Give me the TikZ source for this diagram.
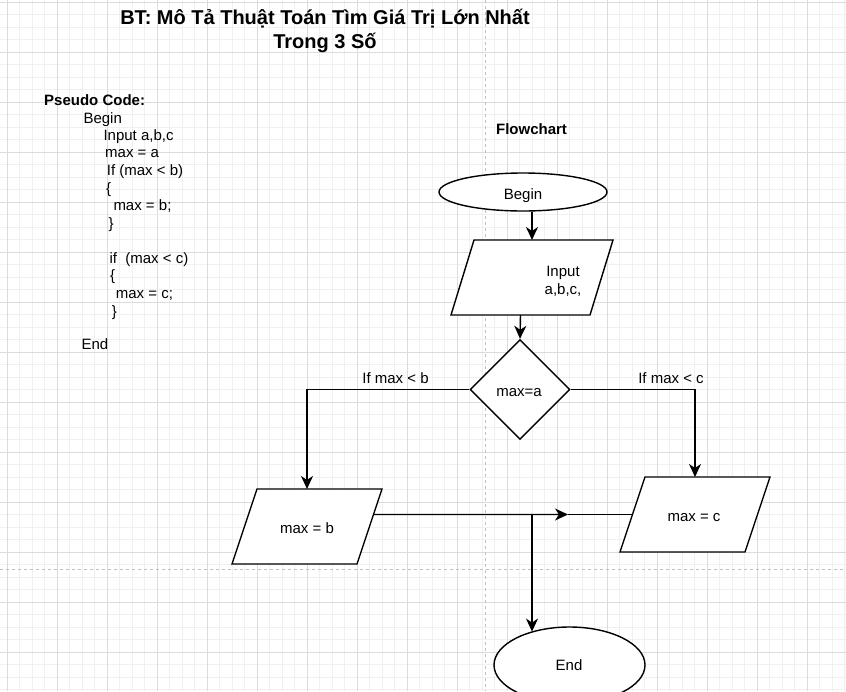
\documentclass[tikz,border=0pt]{standalone}
\usepackage{fontspec}
\setmainfont{Liberation Sans}
\usetikzlibrary{shapes.geometric,arrows.meta,calc}

\definecolor{gridminor}{RGB}{240,240,240}
\definecolor{gridmajor}{RGB}{220,220,220}
\definecolor{pagebreak}{RGB}{192,192,192}

\tikzset{
  txt/.style={inner sep=0pt, font=\fontsize{15}{18}\selectfont, text height=10.5pt, text depth=3pt, yshift=-2.5pt},
  codeline/.style={txt, anchor=west},
  codehead/.style={codeline, font=\fontsize{15}{18}\selectfont\bfseries},
  shapebox/.style={draw=black, line width=1.4pt, fill=white, inner sep=0pt},
  terminal/.style={shapebox, ellipse},
  decision/.style={shapebox, diamond, minimum width=100pt, minimum height=100pt},
  link/.style={line width=1.4pt},
  arr/.style={link, -{Stealth[length=13pt, width=12pt, inset=4pt]}},
}

\begin{document}
\begin{tikzpicture}[x=1pt, y=-1pt]

  % -- Canvas and grid --
  \useasboundingbox (0,0) rectangle (846,691);
  \fill[white] (0,0) rectangle (846,691);
  \foreach \i in {0,...,67} \draw[gridminor, line width=1pt] ({7.3+12.5*\i},0) -- ({7.3+12.5*\i},691);
  \foreach \i in {0,...,55} \draw[gridminor, line width=1pt] (0,{2.3+12.5*\i}) -- (846,{2.3+12.5*\i});
  \foreach \i in {0,...,16} \draw[gridmajor, line width=1pt] ({7.3+50*\i},0) -- ({7.3+50*\i},691);
  \foreach \i in {0,...,13} \draw[gridmajor, line width=1pt] (0,{2.3+50*\i}) -- (846,{2.3+50*\i});

  % -- Page breaks --
  \draw[pagebreak, line width=1pt, dash pattern=on 3pt off 3pt] (485.7,0) -- (485.7,691);
  \draw[pagebreak, line width=1pt, dash pattern=on 3pt off 3pt] (0,569.3) -- (846,569.3);

  % -- Title --
  \node[inner sep=0pt, align=center, yshift=-2pt, font=\fontsize{20}{24}\selectfont\bfseries] (title) at (325,29)
    {BT: Mô Tả Thuật Toán Tìm Giá Trị Lớn Nhất\\Trong 3 Số};

  % -- Pseudo code --
  \node[codehead] (codetitle) at (44,99) {Pseudo Code:};
  \node[codeline] (c1) at (83.3,117) {Begin};
  \node[codeline] (c2) at (103.3,134) {Input a,b,c};
  \node[codeline] (c3) at (105,151.5) {max = a};
  \node[codeline] (c4) at (106.7,169) {If (max < b)};
  \node[codeline] (c5) at (106,187) {\{};
  \node[codeline] (c6) at (113.3,204) {max = b;};
  \node[codeline] (c7) at (108.3,222) {\}};
  \node[codeline] (c8) at (109.3,257) {if\ \ (max < c)};
  \node[codeline] (c9) at (110,274.5) {\{};
  \node[codeline] (c10) at (115.7,292) {max = c;};
  \node[codeline] (c11) at (111.7,310) {\}};
  \node[codeline] (c12) at (81.3,343) {End};

  % -- Flowchart --
  \node[txt, font=\fontsize{15}{18}\selectfont\bfseries] (fchead) at (531.5,128) {Flowchart};

  % Begin
  \node[terminal, minimum width=168pt, minimum height=38pt] (start) at (523,192) {};
  \node[txt] (starttxt) at (523,193) {Begin};

  % Input
  \draw[shapebox] (474,240) coordinate (input-tl) -- (613,240) coordinate (input-tr)
    -- (590,315) coordinate (input-br) -- (451,315) coordinate (input-bl) -- cycle;
  \coordinate (input-top) at (532,240);
  \coordinate (input-bot) at (520.5,315);
  \node[txt, align=center, text height=, text depth=] (input) at (563,278.5) {Input\\a,b,c,};

  % Condition
  \node[decision] (cond) at (520,389.5) {};
  \node[txt] (condtxt) at (519,390) {max=a};

  % max = b
  \draw[shapebox] (257,489) coordinate (setb-tl) -- (382,489) coordinate (setb-tr)
    -- (357,564) coordinate (setb-br) -- (232,564) coordinate (setb-bl) -- cycle;
  \coordinate (setb-top) at (307,489);
  \node[txt] (setb) at (307,527) {max = b};

  % max = c
  \draw[shapebox] (645,477) coordinate (setc-tl) -- (770,477) coordinate (setc-tr)
    -- (745,552) coordinate (setc-br) -- (620,552) coordinate (setc-bl) -- cycle;
  \coordinate (setc-top) at (695,477);
  \coordinate (setc-l) at (632.5,514.5);
  \coordinate (setc-r) at (757.5,514.5);
  \node[txt] (setc) at (694,515) {max = c};

  % End
  \node[terminal, minimum width=151pt, minimum height=76pt] (stop) at (569.5,665) {};
  \node[txt] (stoptxt) at (569,664) {End};

  % Branch labels
  \node[txt] (lblb) at (395.5,377) {If max < b};
  \node[txt] (lblc) at (671,377) {If max < c};

  % -- Connectors --
  \draw[arr] (start.south -| input-top) -- (input-top);
  \draw[arr] (input-bot) -- (cond.north);
  \draw[arr] (cond.west) -| (setb-top);
  \draw[arr] (cond.east) -| (setc-top);

  \coordinate (bjoin) at (intersection of setb-tr--setb-br and setc-l--setc-r);
  \coordinate (mid) at (568,514.5);
  \coordinate (split) at (532,514.5);
  \draw[arr] (bjoin) -- (mid);
  \draw[link] (mid) -- (setc-l);
  \draw[arr] (split) -- (split |- stop.139);

\end{tikzpicture}
\end{document}
